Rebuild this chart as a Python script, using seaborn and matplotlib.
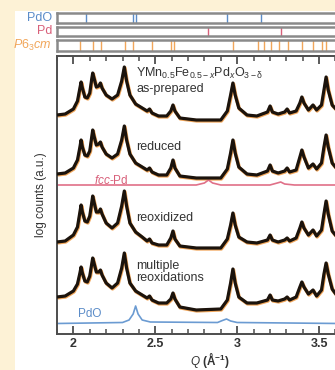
import numpy as np
import pandas as pd
import matplotlib
matplotlib.use("Agg")
import matplotlib.pyplot as plt
import matplotlib.transforms as mtransforms
import seaborn as sns

# ---------------- data ----------------
q = [1.90, 1.95, 2.00, 2.025, 2.040, 2.047, 2.055, 2.070, 2.085, 2.100, 2.112, 2.118,
     2.126, 2.140, 2.155, 2.165, 2.175, 2.200, 2.236, 2.270, 2.295, 2.311, 2.325, 2.345,
     2.380, 2.420, 2.450, 2.465, 2.480, 2.520, 2.570, 2.595, 2.608, 2.620, 2.650, 2.750,
     2.900, 2.940, 2.960, 2.974, 2.988, 3.010, 3.060, 3.120, 3.185, 3.201, 3.215, 3.250,
     3.290, 3.305, 3.320, 3.360, 3.383, 3.395, 3.408, 3.435, 3.463, 3.485, 3.515, 3.530,
     3.543, 3.556, 3.580, 3.620]

as_prepared = [219, 220, 225, 233, 246, 252, 246, 237, 236, 241, 255, 261,
               256, 247, 248, 251, 246, 239, 235, 239, 253, 267, 253, 239,
               230, 226, 223, 225, 221, 218, 218, 223, 229, 223, 216, 214,
               214, 223, 239, 251, 239, 226, 219, 218, 222, 228, 222, 220,
               222, 225, 221, 223, 231, 237, 231, 224, 229, 224, 229, 244,
               257, 244, 229, 222]

reduced = [160, 161, 166, 174, 187, 194, 187, 179, 178, 183, 197, 204,
           198, 189, 190, 192, 187, 180, 176, 180, 194, 208, 194, 180,
           171, 167, 164, 166, 162, 159, 159, 166, 174, 166, 158, 156,
           156, 165, 181, 194, 181, 167, 160, 159, 163, 169, 163, 161,
           163, 166, 162, 164, 177, 184, 177, 166, 170, 165, 171, 187,
           199, 187, 171, 163]

reoxidized = [92, 93, 99, 107, 122, 129, 122, 113, 112, 118, 131, 138,
              132, 122, 122, 125, 120, 111, 106, 111, 128, 143, 128, 111,
              102, 97, 93, 95, 91, 89, 89, 96, 103, 95, 88, 86,
              86, 95, 109, 121, 109, 97, 92, 91, 94, 99, 94, 92,
              94, 96, 93, 96, 106, 112, 106, 99, 104, 98, 104, 120,
              133, 120, 103, 95]

multiple = [37, 38, 43, 50, 61, 67, 61, 53, 52, 58, 70, 76,
            71, 62, 62, 64, 59, 51, 46, 51, 66, 81, 66, 51,
            43, 39, 36, 38, 34, 31, 31, 35, 41, 35, 27, 24,
            25, 34, 51, 65, 51, 37, 31, 31, 34, 39, 34, 33,
            35, 37, 34, 37, 47, 52, 47, 40, 44, 38, 44, 60,
            71, 60, 45, 36]

pd_q = [1.90, 2.75, 2.80, 2.825, 2.85, 2.90, 3.20, 3.245, 3.266, 3.29, 3.35, 3.62]
pd_h = [149, 149, 151, 154, 151, 149, 149, 151, 152, 150, 149, 149]

pdo_q = [1.90, 2.30, 2.34, 2.365, 2.38, 2.395, 2.42, 2.47, 2.88, 2.91, 2.935, 2.96, 3.00, 3.62]
pdo_h = [10.5, 11.5, 14, 20, 28, 20, 14, 12, 11.5, 13.5, 15, 13, 11.5, 10.5]

# reflection markers
refl_pdo = [2.077, 2.362, 2.384, 2.941, 3.145]
refl_pd = [2.825, 3.266]
refl_p63cm = [2.043, 2.118, 2.169, 2.317, 2.362, 2.480, 2.596, 2.612, 2.977,
              3.130, 3.166, 3.205, 3.256, 3.313, 3.394, 3.462, 3.520, 3.543]

pattern_labels = ["as-prepared", "reduced", "reoxidized", "multiple\nreoxidations"]
x_ticks = [2, 2.5, 3, 3.5]
x_ticklabels = ["2", "2.5", "3", "3.5"]

# ---------------- style ----------------
sns.set_style("ticks")
plt.rcParams["font.family"] = ["Liberation Sans", "DejaVu Sans"]
plt.rcParams["mathtext.fontset"] = "custom"
plt.rcParams["mathtext.rm"] = "Liberation Sans"
plt.rcParams["mathtext.it"] = "Liberation Sans:italic"
plt.rcParams["mathtext.default"] = "regular"

CREAM = "#fdf2d6"
BLUE = "#5b8cc8"
PINK = "#d8607a"
ORANGE = "#f1a65a"
DATA = "#1b130c"
TXT = "#333333"
SPINE = "#4d4d4d"

fig = plt.figure(figsize=(3.35, 3.70), dpi=100)
fig.patch.set_facecolor(CREAM)
fig.patches.append(plt.Rectangle((15 / 335, 0), 1, 1 - 11 / 370, transform=fig.transFigure,
                                 facecolor="white", edgecolor="none", zorder=-10))

XMIN, XMAX = 1.90, 3.62
left = 57 / 335
width = (338.7 - 57) / 335

ax = fig.add_axes([left, 36 / 370, width, 278 / 370])
ax.set_facecolor("white")

off = mtransforms.ScaledTranslation(0.4 / 72, -0.6 / 72, fig.dpi_scale_trans)
for vals in [as_prepared, reduced, reoxidized, multiple]:
    sns.lineplot(x=q, y=vals, ax=ax, color=ORANGE, lw=2.6, sort=False,
                 transform=ax.transData + off, zorder=2)
    sns.lineplot(x=q, y=vals, ax=ax, color=DATA, lw=2.3, sort=False, zorder=3)

sns.lineplot(x=pd_q, y=pd_h, ax=ax, color="#e07088", lw=1.2, sort=False, zorder=2)
sns.lineplot(x=pdo_q, y=pdo_h, ax=ax, color="#6b9bd2", lw=1.2, sort=False, zorder=2)

ax.set_xlim(XMIN, XMAX)
ax.set_ylim(0, 278)
ax.set_yticks([])
ax.set_xticks(x_ticks)
ax.set_xticklabels(x_ticklabels, fontsize=9, fontweight="bold", color=TXT)
ax.set_xticks(np.arange(1.9, 3.65, 0.1), minor=True)
ax.tick_params(axis="x", which="major", direction="in", length=6, width=1.3,
               color=SPINE, top=True, pad=3)
ax.tick_params(axis="x", which="minor", direction="in", length=3.5, width=1.1,
               color=SPINE, top=True)
for s in ["left", "bottom", "top"]:
    ax.spines[s].set_color(SPINE)
    ax.spines[s].set_linewidth(1.4)
ax.spines["right"].set_visible(False)

ax.set_xlabel(r"$\mathit{Q}$ (Å$^{-1}$)", fontsize=8.5, fontweight="bold", color=TXT)
ax.xaxis.set_label_coords((210 - 57) / (338.7 - 57), -0.058)
ax.set_ylabel("log counts (a.u.)", fontsize=8.5, color=TXT)
ax.yaxis.set_label_coords(-0.035, 0.5)

tx = 2.384
ax.text(tx, 261, r"YMn$_{0.5}$Fe$_{0.5-\mathit{x}}$Pd$_{\mathit{x}}$O$_{3-\delta}$",
        fontsize=9, color=TXT, va="center", ha="left")
ax.text(tx, 245, pattern_labels[0], fontsize=9, color=TXT, va="center", ha="left")
ax.text(tx, 187, pattern_labels[1], fontsize=9, color=TXT, va="center", ha="left")
ax.text(tx, 116, pattern_labels[2], fontsize=9, color=TXT, va="center", ha="left")
ax.text(tx, 62, pattern_labels[3], fontsize=9, color=TXT, va="center", ha="left",
        linespacing=0.95)
ax.text(2.335, 154, r"$\mathit{fcc}$-Pd", fontsize=8.5, color=PINK, va="center", ha="right")
ax.text(2.03, 20, "PdO", fontsize=8.5, color=BLUE, va="center", ha="left")

# reflection marker panels
panels = [
    (refl_pdo, BLUE, "PdO", 13, 23),
    (refl_pd, PINK, "Pd", 26.5, 36),
    (refl_p63cm, ORANGE, r"$\mathit{P}$6$_{3}$$\mathit{cm}$", 40, 51),
]
for refl, col, lab, ytop, ybot in panels:
    pax = fig.add_axes([left, (370 - ybot) / 370, width, (ybot - ytop) / 370])
    pax.set_facecolor("white")
    sns.rugplot(x=refl, ax=pax, height=1.0, color=col, lw=1.2, expand_margins=False)
    pax.set_xlim(XMIN, XMAX)
    pax.set_ylim(0, 1)
    pax.set_xticks([])
    pax.set_yticks([])
    for s in ["left", "bottom", "top"]:
        pax.spines[s].set_color("#8a8a8a")
        pax.spines[s].set_linewidth(1.8)
    pax.spines["right"].set_visible(False)
    fig.text(52 / 335, 1 - ((ytop + ybot) / 2) / 370, lab, color=col, fontsize=9,
             ha="right", va="center")

fig.savefig("out.png", dpi=100, facecolor=fig.get_facecolor())
